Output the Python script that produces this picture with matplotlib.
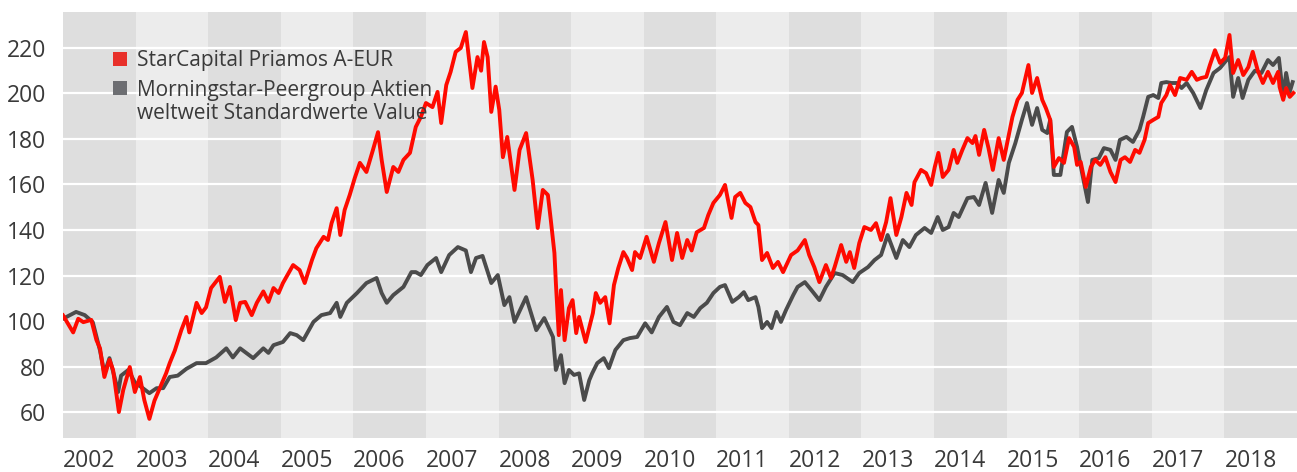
import matplotlib
matplotlib.use("Agg")
import matplotlib.pyplot as plt
from matplotlib.patches import Rectangle

plt.rcParams['font.family'] = ['Open Sans', 'DejaVu Sans']

# ---------------- data (decimal year, index value) ----------------
years = list(range(2002, 2019))
year_labels = [str(y) for y in years]
y_ticks = [60, 80, 100, 120, 140, 160, 180, 200, 220]

fund_name = "StarCapital Priamos A-EUR"
peer_name_1 = "Morningstar-Peergroup Aktien"
peer_name_2 = "weltweit Standardwerte Value"

fund_t = [2002.00, 2002.14, 2002.21, 2002.28, 2002.39, 2002.46, 2002.51, 2002.57, 2002.64, 2002.69,
          2002.77, 2002.83, 2002.92, 2002.99, 2003.06, 2003.12, 2003.19, 2003.26, 2003.35, 2003.42,
          2003.47, 2003.54, 2003.63, 2003.70, 2003.74, 2003.84, 2003.91, 2003.97, 2004.04, 2004.16,
          2004.23, 2004.30, 2004.38, 2004.44, 2004.51, 2004.60, 2004.67, 2004.76, 2004.83, 2004.90,
          2004.97, 2005.03, 2005.17, 2005.26, 2005.33, 2005.43, 2005.49, 2005.59, 2005.65, 2005.70,
          2005.77, 2005.82, 2005.88, 2005.95, 2006.02, 2006.09, 2006.18, 2006.27, 2006.34, 2006.39,
          2006.46, 2006.55, 2006.62, 2006.69, 2006.78, 2006.86, 2006.93, 2007.00, 2007.09, 2007.16,
          2007.21, 2007.28, 2007.34, 2007.41, 2007.48, 2007.55, 2007.64, 2007.71, 2007.76, 2007.80,
          2007.85, 2007.90, 2007.96, 2008.01, 2008.06, 2008.12, 2008.22, 2008.29, 2008.38, 2008.47,
          2008.54, 2008.61, 2008.68, 2008.72, 2008.77, 2008.79, 2008.83, 2008.86, 2008.91, 2008.97,
          2009.02, 2009.07, 2009.11, 2009.20, 2009.30, 2009.34, 2009.40, 2009.47, 2009.53, 2009.59,
          2009.65, 2009.72, 2009.77, 2009.84, 2009.88, 2009.95, 2010.04, 2010.14, 2010.21, 2010.30,
          2010.39, 2010.46, 2010.53, 2010.60, 2010.66, 2010.73, 2010.83, 2010.89, 2010.96, 2011.05,
          2011.12, 2011.21, 2011.26, 2011.33, 2011.40, 2011.47, 2011.54, 2011.58, 2011.63, 2011.70,
          2011.78, 2011.85, 2011.92, 2012.03, 2012.12, 2012.22, 2012.28, 2012.35, 2012.42, 2012.51,
          2012.58, 2012.63, 2012.72, 2012.79, 2012.84, 2012.90, 2012.97, 2013.04, 2013.13, 2013.20,
          2013.27, 2013.34, 2013.40, 2013.48, 2013.55, 2013.62, 2013.69, 2013.73, 2013.82, 2013.89,
          2013.96, 2014.01, 2014.06, 2014.12, 2014.20, 2014.27, 2014.32, 2014.39, 2014.46, 2014.53,
          2014.57, 2014.62, 2014.69, 2014.75, 2014.81, 2014.89, 2014.96, 2015.03, 2015.08, 2015.15,
          2015.21, 2015.30, 2015.35, 2015.42, 2015.49, 2015.54, 2015.60, 2015.65, 2015.72, 2015.79,
          2015.86, 2015.93, 2015.97, 2016.02, 2016.09, 2016.16, 2016.22, 2016.29, 2016.36, 2016.43,
          2016.50, 2016.57, 2016.63, 2016.70, 2016.77, 2016.83, 2016.90, 2016.95, 2017.02, 2017.09,
          2017.13, 2017.20, 2017.25, 2017.32, 2017.39, 2017.48, 2017.55, 2017.62, 2017.68, 2017.75,
          2017.80, 2017.87, 2017.94, 2018.01, 2018.07, 2018.12, 2018.19, 2018.26, 2018.33, 2018.39,
          2018.46, 2018.53, 2018.60, 2018.67, 2018.74, 2018.76, 2018.81, 2018.85, 2018.90, 2018.95]
fund_v = [102.5, 95.0, 101.0, 99.5, 100.5, 91.7, 88.0, 75.4, 83.0, 78.5,
          60.0, 69.7, 79.8, 68.8, 75.4, 65.3, 57.0, 65.0, 71.8, 77.0,
          81.5, 87.0, 96.0, 101.8, 95.0, 108.0, 103.5, 106.0, 114.5, 119.4,
          108.4, 115.0, 100.4, 108.0, 108.4, 102.6, 108.0, 113.0, 108.4, 114.5,
          112.3, 116.7, 124.6, 122.4, 116.7, 126.8, 132.0, 137.0, 135.6, 143.0,
          149.6, 137.8, 148.8, 155.4, 162.9, 169.5, 165.5, 175.2, 183.0, 170.8,
          156.7, 167.7, 165.5, 170.8, 173.9, 185.3, 189.7, 195.8, 194.0, 200.7,
          187.0, 203.7, 209.5, 218.3, 220.0, 227.0, 202.4, 216.0, 210.0, 222.6,
          216.0, 191.9, 203.0, 192.8, 172.0, 180.9, 157.6, 175.2, 182.6, 162.0,
          140.9, 157.6, 155.4, 144.4, 129.9, 116.7, 93.8, 113.6, 91.6, 105.7,
          109.2, 94.7, 101.8, 90.8, 103.5, 112.3, 108.0, 110.5, 99.0, 115.8,
          123.3, 130.3, 127.7, 122.4, 130.3, 127.7, 137.0, 126.0, 134.3, 143.5,
          126.8, 138.7, 127.7, 135.6, 131.0, 139.0, 140.9, 146.6, 151.9, 155.4,
          159.8, 145.3, 154.5, 156.3, 151.9, 150.1, 143.5, 142.2, 126.8, 129.9,
          123.3, 126.0, 121.5, 129.0, 131.0, 135.6, 129.0, 123.7, 117.1, 124.6,
          118.9, 123.7, 133.4, 126.0, 130.3, 123.3, 134.3, 141.3, 140.0, 143.0,
          135.6, 143.5, 154.0, 137.8, 145.7, 156.3, 151.0, 161.0, 166.4, 165.0,
          159.8, 167.7, 173.9, 163.3, 166.4, 175.2, 169.5, 175.2, 180.4, 178.2,
          181.3, 173.0, 184.0, 176.0, 166.4, 180.4, 170.8, 181.8, 189.7, 197.2,
          200.2, 212.5, 200.2, 206.8, 197.2, 193.6, 188.4, 167.7, 171.6, 169.5,
          180.4, 176.5, 168.6, 169.9, 158.9, 167.7, 170.8, 168.6, 172.0, 165.5,
          161.1, 170.8, 172.0, 169.9, 175.2, 173.9, 179.6, 187.0, 188.4, 189.7,
          195.8, 199.3, 203.7, 199.3, 206.8, 206.0, 209.5, 206.0, 206.8, 207.3,
          212.5, 219.0, 213.4, 215.6, 225.7, 209.0, 214.7, 208.1, 211.6, 218.3,
          210.0, 204.6, 209.5, 204.6, 209.5, 202.9, 197.2, 202.4, 198.5, 200.2]

peer_t = [2002.00, 2002.18, 2002.30, 2002.41, 2002.51, 2002.57, 2002.64, 2002.71, 2002.76, 2002.80,
          2002.90, 2002.99, 2003.10, 2003.19, 2003.29, 2003.38, 2003.47, 2003.58, 2003.70, 2003.84,
          2003.97, 2004.11, 2004.25, 2004.34, 2004.44, 2004.62, 2004.76, 2004.83, 2004.90, 2005.03,
          2005.13, 2005.22, 2005.31, 2005.45, 2005.56, 2005.68, 2005.77, 2005.82, 2005.91, 2006.05,
          2006.18, 2006.32, 2006.39, 2006.46, 2006.55, 2006.69, 2006.80, 2006.86, 2006.93, 2007.02,
          2007.14, 2007.21, 2007.32, 2007.44, 2007.55, 2007.62, 2007.69, 2007.78, 2007.90, 2007.99,
          2008.08, 2008.15, 2008.22, 2008.38, 2008.52, 2008.63, 2008.75, 2008.79, 2008.86, 2008.91,
          2008.97, 2009.04, 2009.11, 2009.18, 2009.25, 2009.29, 2009.36, 2009.45, 2009.52, 2009.61,
          2009.72, 2009.81, 2009.91, 2010.02, 2010.11, 2010.21, 2010.32, 2010.41, 2010.50, 2010.60,
          2010.69, 2010.78, 2010.87, 2010.96, 2011.05, 2011.12, 2011.22, 2011.31, 2011.38, 2011.44,
          2011.54, 2011.58, 2011.63, 2011.70, 2011.76, 2011.83, 2011.89, 2011.96, 2012.06, 2012.12,
          2012.22, 2012.31, 2012.42, 2012.51, 2012.63, 2012.74, 2012.88, 2012.97, 2013.09, 2013.18,
          2013.27, 2013.36, 2013.48, 2013.57, 2013.66, 2013.75, 2013.87, 2013.96, 2014.05, 2014.12,
          2014.20, 2014.27, 2014.34, 2014.46, 2014.55, 2014.62, 2014.71, 2014.80, 2014.89, 2014.96,
          2015.03, 2015.12, 2015.21, 2015.28, 2015.35, 2015.42, 2015.49, 2015.56, 2015.60, 2015.65,
          2015.74, 2015.83, 2015.90, 2015.97, 2016.04, 2016.12, 2016.18, 2016.27, 2016.34, 2016.43,
          2016.50, 2016.56, 2016.65, 2016.74, 2016.83, 2016.88, 2016.95, 2017.02, 2017.09, 2017.13,
          2017.20, 2017.27, 2017.34, 2017.41, 2017.48, 2017.57, 2017.67, 2017.75, 2017.85, 2017.94,
          2018.03, 2018.07, 2018.12, 2018.19, 2018.25, 2018.33, 2018.42, 2018.51, 2018.60, 2018.67,
          2018.75, 2018.81, 2018.85, 2018.90, 2018.94]
peer_v = [101.0, 104.0, 102.6, 99.5, 87.0, 77.0, 83.7, 75.4, 68.8, 76.0,
          78.5, 73.0, 70.5, 68.3, 70.5, 70.5, 75.4, 76.0, 79.0, 81.5,
          81.5, 84.0, 88.0, 84.0, 88.0, 83.7, 88.0, 86.0, 89.4, 90.8,
          94.7, 93.8, 91.6, 99.6, 102.6, 103.5, 108.0, 101.8, 108.0, 112.3,
          116.7, 118.9, 112.3, 108.0, 111.4, 115.0, 121.5, 121.5, 120.2, 124.6,
          127.7, 121.5, 129.0, 132.5, 131.0, 121.5, 127.7, 128.6, 116.7, 120.2,
          107.0, 110.5, 99.6, 110.5, 96.0, 101.3, 93.0, 78.5, 85.0, 72.7,
          78.5, 76.3, 77.0, 65.3, 74.0, 77.0, 81.5, 83.7, 79.3, 87.3,
          91.6, 92.5, 93.0, 99.0, 95.0, 101.8, 106.2, 99.6, 98.2, 103.5,
          101.8, 105.7, 108.0, 112.3, 115.0, 115.8, 108.4, 110.5, 112.7, 109.2,
          110.5, 106.2, 96.9, 99.6, 96.9, 104.0, 99.6, 104.8, 111.4, 115.0,
          117.1, 113.6, 109.2, 115.0, 121.1, 120.2, 117.1, 121.1, 123.7, 126.8,
          129.0, 137.8, 127.7, 135.6, 132.5, 137.8, 140.9, 138.7, 145.7, 140.0,
          141.3, 147.5, 145.7, 154.0, 154.5, 151.0, 160.7, 147.5, 162.0, 156.3,
          169.5, 178.2, 188.4, 195.8, 186.2, 193.6, 184.0, 182.6, 188.4, 164.2,
          164.2, 183.1, 185.3, 176.5, 165.0, 152.3, 170.8, 171.6, 176.0, 175.2,
          170.8, 179.6, 180.9, 178.7, 184.0, 189.7, 198.5, 199.3, 198.0, 204.6,
          205.0, 204.6, 204.6, 202.4, 204.6, 200.2, 193.6, 201.5, 209.0, 211.2,
          214.7, 216.0, 198.5, 206.8, 198.0, 206.0, 210.0, 209.0, 214.7, 212.5,
          215.6, 198.5, 209.0, 200.7, 205.0]

# ---------------- styling ----------------
W, H, DPI = 1297, 472, 100
band_dark = "#dedede"
band_light = "#ececec"
red = "#ff0a00"
gray = "#4b4b4b"
text_col = "#3a3a3a"

fig = plt.figure(figsize=(W / DPI, H / DPI), dpi=DPI)
ax = fig.add_axes([63 / W, 34 / H, 1234 / W, 426 / H])
ax.set_facecolor(band_light)

for y in years:
    if (y - years[0]) % 2 == 0:
        ax.axvspan(y, y + 1, color=band_dark, lw=0, zorder=0)

ax.set_xlim(years[0], years[-1] + 1)
ax.set_ylim(48.6, 235.8)

for v in y_ticks:
    ax.axhline(v, color="white", lw=1.6, zorder=1)

ax.plot(peer_t, peer_v, color=gray, lw=2.8, zorder=3, solid_joinstyle="round")
ax.plot(fund_t, fund_v, color=red, lw=2.8, zorder=4, solid_joinstyle="round")

for s in ax.spines.values():
    s.set_visible(False)

ax.set_yticks(y_ticks)
ax.set_yticklabels([str(v) for v in y_ticks])
ax.set_xticks(years)
ax.set_xticklabels(year_labels, ha="left")
ax.tick_params(axis="both", length=0, labelsize=16.5, colors=text_col)
ax.tick_params(axis="y", pad=12)
ax.tick_params(axis="x", pad=8)

# legend (manual)
aw, ah = 1234, 426
def ax_x(px):
    return (px - 63) / aw
def ax_y(py):
    return (438 - py) / ah

ax.add_patch(Rectangle((ax_x(113), ax_y(66)), 14 / aw, 14 / ah, transform=ax.transAxes,
                       facecolor="#e8302a", edgecolor="none", zorder=5))
ax.add_patch(Rectangle((ax_x(113), ax_y(95)), 14 / aw, 14 / ah, transform=ax.transAxes,
                       facecolor="#6d6e72", edgecolor="none", zorder=5))
ax.text(ax_x(137), ax_y(66.5), fund_name, transform=ax.transAxes, fontsize=15,
        color=text_col, va="baseline", ha="left", zorder=6)
ax.text(ax_x(137), ax_y(96.5), peer_name_1, transform=ax.transAxes, fontsize=15,
        color=text_col, va="baseline", ha="left", zorder=6)
ax.text(ax_x(137), ax_y(119), peer_name_2, transform=ax.transAxes, fontsize=15,
        color=text_col, va="baseline", ha="left", zorder=6)

fig.savefig("out.png", dpi=DPI, facecolor="white")
